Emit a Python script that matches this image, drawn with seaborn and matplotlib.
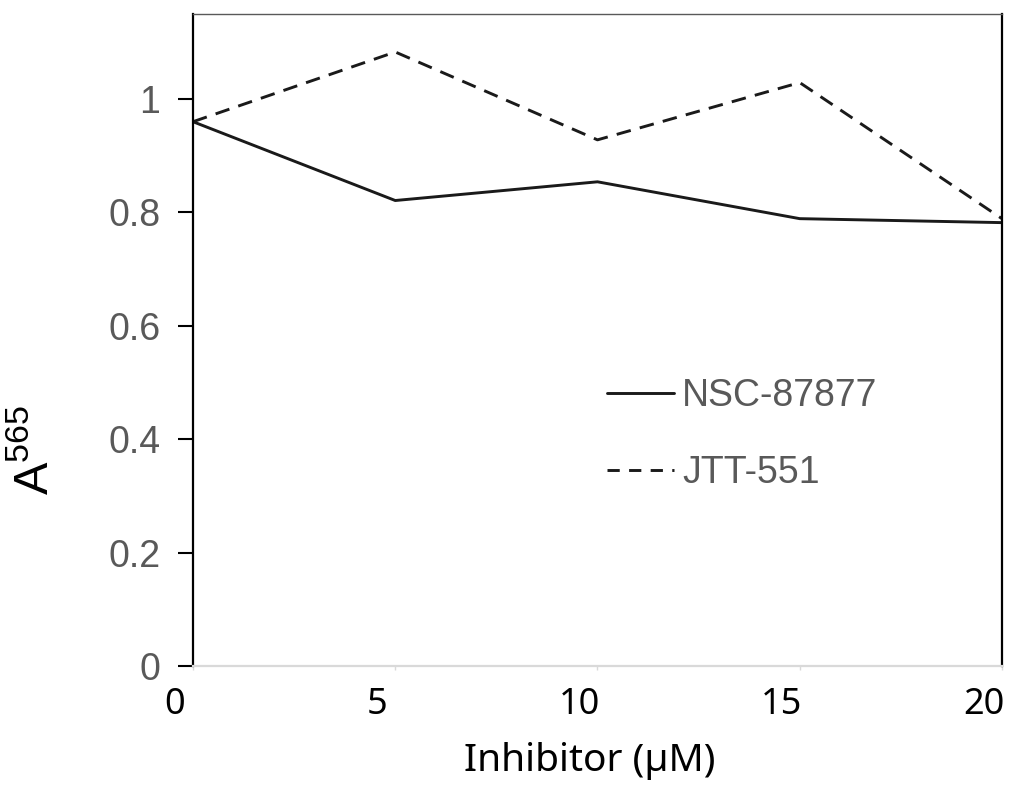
import pandas as pd
import matplotlib
matplotlib.use("Agg")
import matplotlib.pyplot as plt
import matplotlib.transforms as mtransforms
from matplotlib.lines import Line2D
import seaborn as sns

inhibitor_um = [0, 5, 10, 15, 20]
nsc_87877 = [0.960, 0.821, 0.854, 0.789, 0.782]
jtt_551 = [0.960, 1.083, 0.928, 1.029, 0.789]
series_names = ["NSC-87877", "JTT-551"]
y_ticks = [0, 0.2, 0.4, 0.6, 0.8, 1]
y_tick_labels = ["0", "0.2", "0.4", "0.6", "0.8", "1"]
x_ticks = [0, 5, 10, 15, 20]


def build_frame():
    rows = []
    for name, vals in zip(series_names, [nsc_87877, jtt_551]):
        for x, y in zip(inhibitor_um, vals):
            rows.append({"Inhibitor": x, "A565": y, "Compound": name})
    return pd.DataFrame(rows)


df = build_frame()

sns.set_style("white")
plt.rcParams["font.family"] = ["Liberation Sans", "DejaVu Sans"]
plt.rcParams["mathtext.default"] = "regular"

line_color = "#1a1a1a"
dash_pat = (5.0, 3.2)

fig = plt.figure(figsize=(10.19, 7.95), dpi=100)
ax = fig.add_axes([0.1894, 0.1623, 0.7939, 0.8201])

sns.lineplot(data=df, x="Inhibitor", y="A565", style="Compound",
             style_order=series_names,
             dashes={"NSC-87877": "", "JTT-551": dash_pat},
             color=line_color, linewidth=2.1, ax=ax, legend=False)

ax.set_xlim(0, 20)
ax.set_ylim(0, 1.15)
ax.set_yticks(y_ticks)
ax.set_yticklabels(y_tick_labels)
ax.set_xticks(x_ticks)

ax.tick_params(axis="y", direction="out", length=11, width=1.5, color="black",
               labelsize=27, labelcolor="#595959", pad=12.5, left=True)
ax.tick_params(axis="x", direction="out", length=3, width=1, color="#d9d9d9",
               labelsize=26, labelcolor="black", pad=12, bottom=True)

# x tick labels sit a bit left of their ticks in the original
shift = mtransforms.ScaledTranslation(-0.18, 0, fig.dpi_scale_trans)
for lab in ax.get_xticklabels():
    lab.set_family(["Noto Sans", "DejaVu Sans"])
    lab.set_transform(lab.get_transform() + shift)

for side in ["left", "right"]:
    ax.spines[side].set_color("black")
    ax.spines[side].set_linewidth(1.6)
ax.spines["top"].set_color("#595959")
ax.spines["top"].set_linewidth(1.0)
ax.spines["bottom"].set_color("#d9d9d9")
ax.spines["bottom"].set_linewidth(1.6)

ax.set_xlabel("Inhibitor (µM)", fontsize=28, color="black",
              family=["Noto Sans", "DejaVu Sans"])
ax.xaxis.set_label_coords(0.49, -0.145)
ax.xaxis.label.set_va("center")
ax.set_ylabel("A$^{565}$", fontsize=35, color="black", va="center")
ax.yaxis.set_label_coords(-0.195, 0.331)

handles = [Line2D([], [], color=line_color, linewidth=2.1),
           Line2D([], [], color=line_color, linewidth=2.1,
                  linestyle=(0, (4.2, 3.2)))]
leg = ax.legend(handles, series_names, loc="center left",
                bbox_to_anchor=(0.47, 0.355), frameon=False, fontsize=27,
                handlelength=1.8, handletextpad=0.2, labelspacing=1.1,
                labelcolor="#595959")

fig.savefig("out.png", dpi=100)
